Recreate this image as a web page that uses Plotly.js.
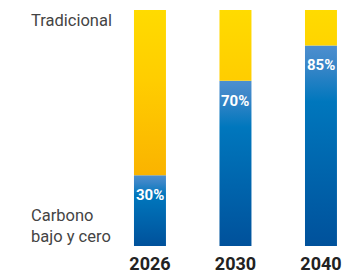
<!DOCTYPE html>
<html>
<head>
<meta charset="utf-8">
<script src="https://cdn.plot.ly/plotly-3.0.1.min.js"></script>
<style>html,body{margin:0;padding:0;background:#fff;}#chart{width:345px;height:275px;}</style>
</head>
<body>
<div id="chart"></div>
<script>
var years = ['2026', '2030', '2040'];
var lowCarbon = [30, 70, 85];
var traditional = [70, 30, 15];
var pctLabels = ['30%', '70%', '85%'];
var seriesNames = ['Carbono<br>bajo y cero', 'Tradicional'];

var barHalf = 0.187;
var traces = [];
var annotations = [];

years.forEach(function (yr, i) {
  var low = lowCarbon[i];
  var top = low + traditional[i];
  // low-carbon segment
  traces.push({
    type: 'scatter', mode: 'lines', hoverinfo: 'skip', showlegend: false,
    x: [i - barHalf, i + barHalf, i + barHalf, i - barHalf, i - barHalf],
    y: [0, 0, low, low, 0],
    fill: 'toself', line: {width: 0, color: 'rgba(0,0,0,0)'},
    fillgradient: {type: 'vertical', start: 0, stop: low,
      colorscale: [[0, '#00519b'], [0.72, '#0077bd'], [0.9, '#3a86c8'], [1, '#4d8fcf']]}
  });
  // traditional segment
  traces.push({
    type: 'scatter', mode: 'lines', hoverinfo: 'skip', showlegend: false,
    x: [i - barHalf, i + barHalf, i + barHalf, i - barHalf, i - barHalf],
    y: [low, low, top, top, low],
    fill: 'toself', line: {width: 0, color: 'rgba(0,0,0,0)'},
    fillgradient: {type: 'vertical', start: 0, stop: 100,
      colorscale: [[0, '#f7a800'], [0.3, '#fab300'], [0.7, '#ffcd00'], [1, '#ffdb00']]}
  });
  annotations.push({
    x: i, y: low, xref: 'x', yref: 'y', text: pctLabels[i], showarrow: false,
    yanchor: 'middle', yshift: -20,
    font: {family: 'Roboto, sans-serif', size: 15, color: '#ffffff', weight: 'bold'}
  });
});

annotations.push({
  xref: 'paper', yref: 'paper', x: 29 / 345, y: 1, xanchor: 'left', yanchor: 'middle', yshift: -10,
  text: seriesNames[1], showarrow: false, align: 'left',
  font: {family: 'Roboto, sans-serif', size: 16.5, color: '#444444'}
});
annotations.push({
  xref: 'paper', yref: 'paper', x: 29 / 345, y: 0, xanchor: 'left', yanchor: 'bottom', yshift: -2,
  text: seriesNames[0], showarrow: false, align: 'left',
  font: {family: 'Roboto, sans-serif', size: 16.5, color: '#444444'}
});

var layout = {
  width: 345, height: 275,
  margin: {l: 0, r: 0, t: 10, b: 29, pad: 0},
  paper_bgcolor: '#ffffff', plot_bgcolor: '#ffffff',
  showlegend: false,
  xaxis: {range: [-1.754, 2.281], tickvals: [0, 1, 2], ticktext: years,
    showgrid: false, zeroline: false, showline: false, ticks: '',
    ticklabelstandoff: 5,
    tickfont: {family: 'Roboto, sans-serif', size: 18, color: '#222222', weight: 'bold'},
    fixedrange: true},
  yaxis: {range: [0, 100], visible: false, fixedrange: true},
  annotations: annotations
};

Plotly.newPlot('chart', traces, layout, {displayModeBar: false, staticPlot: true});
</script>
</body>
</html>
